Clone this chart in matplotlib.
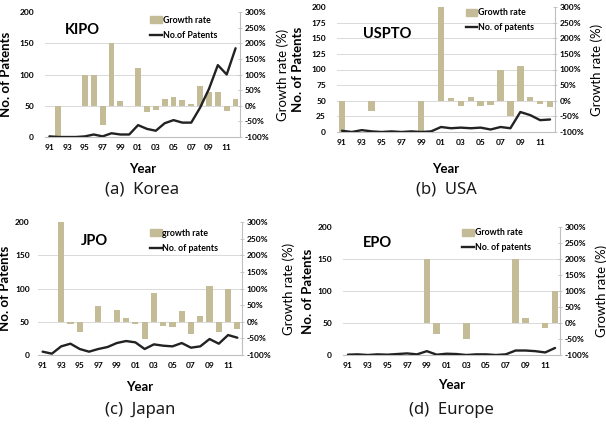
import numpy as np
import matplotlib.pyplot as plt
from matplotlib.patches import Patch
from matplotlib.lines import Line2D

plt.rcParams['font.family'] = ['Lato', 'DejaVu Sans']

years = ['91', '92', '93', '94', '95', '96', '97', '98', '99', '00', '01',
         '02', '03', '04', '05', '06', '07', '08', '09', '10', '11', '12']
tick_labels = ['91', '', '93', '', '95', '', '97', '', '99', '', '01',
               '', '03', '', '05', '', '07', '', '09', '', '11', '']

# (a) Korea - KIPO
kr_growth = [0, -100, 0, 0, 100, 100, -60, 200, 15, 0, 120,
             -21, -14, 23, 29, 18, 6, 64, 45, 44, -17, 21]
kr_patents = [1, 0, 0, 0, 1, 4, 1, 6, 4, 4, 19,
              13, 10, 22, 27, 23, 23, 47, 77, 115, 100, 142]

# (b) USA - USPTO
us_growth = [-100, 0, 0, -32, 0, 0, 0, 0, -100, 0, 300,
             10, -16, 12, -16, -12, 98, -50, 112, 12, -9, -21]
us_patents = [2, 0, 3, 1, 0, 1, 0, 1, 0, 1, 8,
              6, 7, 6, 7, 4, 8, 6, 32, 27, 19, 20]

# (c) Japan - JPO
jp_growth = [0, 0, 300, -7, -32, 0, 48, 0, 35, 10, -6,
             -53, 87, -13, -17, 32, -37, 17, 107, -31, 99, -21]
jp_patents = [5, 2, 13, 17, 9, 5, 9, 12, 18, 21, 19,
              9, 16, 14, 13, 18, 11, 13, 24, 17, 30, 26]

# (d) Europe - EPO
eu_growth = [0, 0, 0, 0, 0, 0, 0, 0, 200, -35, 0,
             0, -50, 0, 0, 0, 0, 200, 17, 0, -17, 100]
eu_patents = [0.5, 1, 0, 1, 0.5, 1.5, 2.5, 1, 6, 0.5, 2,
              1.5, 0, 1, 1, 0, 1, 7, 7, 6, 4, 11]

W, H = 606, 429
bar_color = '#C4BC96'
line_color = '#222222'
axis_gray = '#BFBFBF'
grid_gray = '#D9D9D9'


def panel(rect, growth, patents, office, office_pos, left_ticks,
          legend_labels, legend_pos, caption, caption_y, year_pad,
          rlab_pad, ltick_pad, llab_pad):
    l, t, r, b = rect
    ax = fig.add_axes([l / W, 1 - b / H, (r - l) / W, (b - t) / H])
    x = np.arange(len(years))
    for v in left_ticks[1:-1]:
        ax.axhline(2 * v - 100, color=grid_gray, lw=0.7, zorder=0)
    ax.bar(x, growth, width=0.66, color=bar_color, zorder=2)
    ax.set_ylim(-100, 300)
    ax.set_xlim(-0.5, len(years) - 0.5)
    ax.set_xticks(x)
    ax.set_xticklabels(tick_labels)
    ax.tick_params(axis='x', length=0, pad=5, labelsize=6)
    for s in ['top', 'left']:
        ax.spines[s].set_visible(False)
    for s in ['right', 'bottom']:
        ax.spines[s].set_color(axis_gray)
        ax.spines[s].set_linewidth(0.8)
    ax.set_xlabel('Year', fontsize=9.5, fontweight='bold', labelpad=year_pad)

    ax2 = ax.twinx()
    # twinx moves the host ticks to the left, so put them back on the right
    ax.yaxis.tick_right()
    ax.yaxis.set_label_position('right')
    ax.set_yticks(np.arange(-100, 301, 50))
    ax.set_yticklabels(['%d%%' % v for v in range(-100, 301, 50)])
    ax.tick_params(axis='y', length=3, width=0.6, color=axis_gray,
                   labelsize=6, pad=2, direction='inout')
    ax.set_ylabel('Growth rate (%)', fontsize=9.5, labelpad=rlab_pad)
    for lab in ax.get_xticklabels() + ax.get_yticklabels():
        lab.set_fontweight('bold')

    ax2.plot(x, patents, color=line_color, lw=1.7, solid_joinstyle='round',
             solid_capstyle='round', zorder=3)
    ax2.set_ylim(0, 200)
    ax2.yaxis.tick_left()
    ax2.yaxis.set_label_position('left')
    ax2.set_yticks(left_ticks)
    ax2.tick_params(axis='y', length=0, labelsize=6, pad=ltick_pad)
    for lab in ax2.get_yticklabels():
        lab.set_fontweight('bold')
    for s in ax2.spines:
        ax2.spines[s].set_visible(False)
    ax2.set_ylabel('No. of Patents', fontsize=9.5, fontweight='bold',
                   labelpad=llab_pad)

    ax2.text(office_pos[0], office_pos[1], office, transform=ax.transAxes,
             fontsize=10.5, fontweight='bold', va='center', ha='left')
    handles = [Patch(color=bar_color), Line2D([], [], color=line_color, lw=1.7)]
    ax2.legend(handles, legend_labels, loc='upper left',
               bbox_to_anchor=legend_pos, frameon=False,
               prop={'size': 6.3, 'weight': 'bold'}, handlelength=1.3,
               handleheight=0.8, handletextpad=0.1, labelspacing=0.7,
               borderpad=0, borderaxespad=0)
    fig.text((l + r) / 2 / W, 1 - caption_y / H, caption, fontsize=12,
             family=['Noto Sans', 'DejaVu Sans'], ha='center', va='center',
             color='#1a1a1a')
    return ax


fig = plt.figure(figsize=(W / 100, H / 100), dpi=100)

panel((45, 12, 240, 137), kr_growth, kr_patents, 'KIPO', (0.10, 0.86),
      [0, 50, 100, 150, 200], ['Growth rate', 'No.of Patents'], (0.54, 0.97),
      '(a)  Korea', 190, 9, 5, 8, 5)
panel((337, 7, 555, 132), us_growth, us_patents, 'USPTO', (0.12, 0.78),
      [0, 25, 50, 75, 100, 125, 150, 175, 200],
      ['Growth rate', 'No. of patents'], (0.59, 0.99),
      '(b)  USA', 190, 12, 4, 8, 5)
panel((38, 222, 242, 355), jp_growth, jp_patents, 'JPO', (0.21, 0.86),
      [0, 50, 100, 150, 200], ['growth rate', 'No. of patents'], (0.55, 0.95),
      '(c)  Japan', 410, 9, 8, 6, 3)
panel((343, 227, 560, 355), eu_growth, eu_patents, 'EPO', (0.09, 0.875),
      [0, 50, 100, 150, 200], ['Growth rate', 'No. of patents'], (0.55, 0.99),
      '(d)  Europe', 410, 7, 4, 8, 2)

fig.savefig('out.png', dpi=100)
